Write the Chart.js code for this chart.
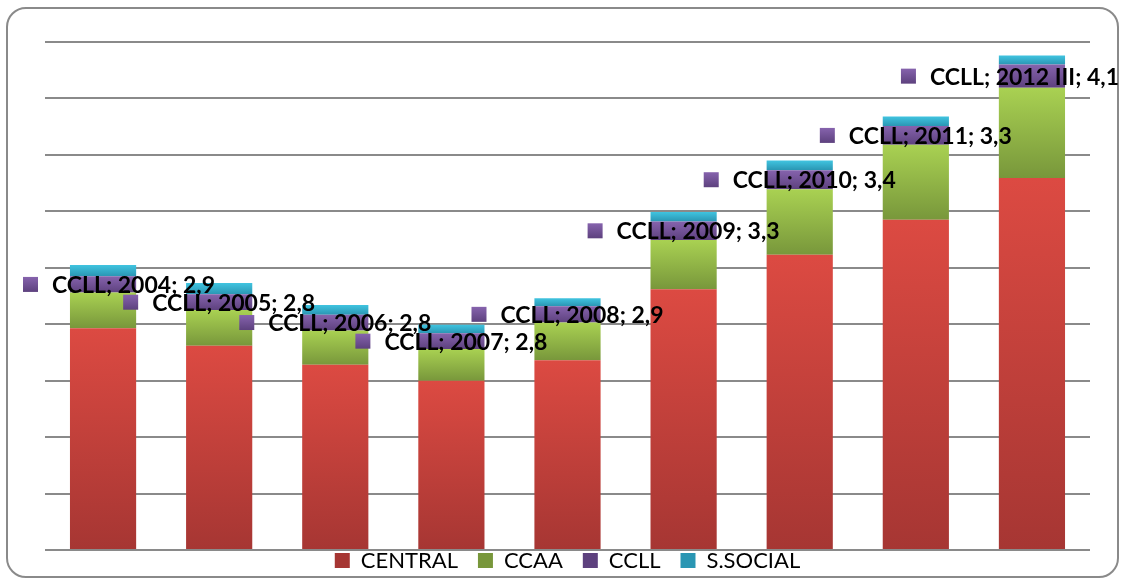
<!DOCTYPE html>
<html><head><meta charset="utf-8">
<script src="https://cdn.jsdelivr.net/npm/chart.js@4"></script>
<style>
html,body{margin:0;padding:0;background:#fff;}
#wrap{position:relative;width:1121px;height:580px;overflow:hidden;}
#frame{position:absolute;left:6px;top:7px;width:1113px;height:571px;border:2px solid #8a8a8a;border-radius:20px;box-sizing:border-box;}
canvas{position:absolute;left:0;top:0;}
</style></head><body>
<div id="wrap"><div id="frame"></div><canvas id="c" width="1121" height="580"></canvas></div>
<script>
// ---- data ----
const categories = ['2004','2005','2006','2007','2008','2009','2010','2011','2012 III'];
const seriesNames = ['CENTRAL','CCAA','CCLL','S.SOCIAL'];
const central  = [39.3, 36.2, 32.8, 30.0, 33.6, 46.2, 52.3, 58.5, 65.9];
const ccaa     = [6.3, 6.3, 6.1, 5.6, 6.7, 8.7, 11.6, 13.3, 16.0];
const ccll     = [2.9, 2.8, 2.8, 2.8, 2.9, 3.3, 3.4, 3.3, 4.1];
const ssocial  = [2.0, 2.0, 1.7, 1.5, 1.4, 1.7, 1.7, 1.7, 1.6];
const yTicks   = [0,10,20,30,40,50,60,70,80,90];

// ---- styles ----
const palette = [
  {light:'#dc4a42', dark:'#a63633', mid:'#c9413c'},
  {light:'#a9d152', dark:'#78973b', mid:'#93b847'},
  {light:'#8663ad', dark:'#5d417e', mid:'#75549a'},
  {light:'#40c4e0', dark:'#2a96b3', mid:'#33aed0'}
];
const seriesValues = [central, ccaa, ccll, ssocial];

function segGrad(dsIndex) {
  const p = palette[dsIndex];
  return function(c) {
    const chart = c.chart;
    if (c.type !== 'data' || !chart.chartArea) return p.mid;
    const ys = chart.scales.y;
    const i = c.dataIndex;
    let base = 0;
    for (let d = 0; d < dsIndex; d++) base += chart.data.datasets[d].data[i];
    const top = base + chart.data.datasets[dsIndex].data[i];
    const y0 = ys.getPixelForValue(top), y1 = ys.getPixelForValue(base);
    const g = chart.ctx.createLinearGradient(0, y0, 0, y1);
    g.addColorStop(0, p.light); g.addColorStop(1, p.dark);
    return g;
  };
}

function fmt(v){ return v.toFixed(1).replace('.', ','); }

const labelPlugin = {
  id: 'ccllLabels',
  afterLayout(chart) {
    const lg = chart.legend;
    if (lg) { lg.top -= 20.5; lg.bottom -= 20.5; }
  },
  afterDatasetsDraw(chart) {
    const meta = chart.getDatasetMeta(2);
    const ctx = chart.ctx;
    ctx.save();
    ctx.font = 'bold 23px Lato';
    ctx.textBaseline = 'middle';
    meta.data.forEach((el, i) => {
      const txt = seriesNames[2] + '; ' + categories[i] + '; ' + fmt(chart.data.datasets[2].data[i]);
      const tw = ctx.measureText(txt).width;
      const w = 15 + 14 + tw;
      let x0 = el.x - w / 2;
      x0 = Math.max(23, Math.min(x0, 1119 - w));
      const yc = (el.y + el.base) / 2;
      const g = ctx.createLinearGradient(0, yc - 7.5, 0, yc + 7.5);
      g.addColorStop(0, palette[2].light); g.addColorStop(1, palette[2].dark);
      ctx.fillStyle = g;
      ctx.fillRect(x0, yc - 7.5, 15, 15);
      ctx.fillStyle = '#000';
      ctx.fillText(txt, x0 + 29, yc + 1);
    });
    ctx.restore();
  }
};

new Chart(document.getElementById('c'), {
  type: 'bar',
  data: {
    labels: categories,
    datasets: seriesValues.map((vals, d) => ({
      label: seriesNames[d],
      data: vals,
      backgroundColor: segGrad(d),
      borderWidth: 0,
      categoryPercentage: 1,
      barPercentage: 0.57
    }))
  },
  options: {
    responsive: false,
    animation: false,
    events: [],
    layout: { padding: { left: 45, right: 31, top: 42, bottom: -22 } },
    plugins: {
      tooltip: { enabled: false },
      legend: {
        position: 'bottom',
        labels: {
          boxWidth: 15, boxHeight: 15, padding: 20, color: '#000',
          font: { family: 'Lato', size: 22 }
        }
      }
    },
    scales: {
      x: {
        display: false,
        stacked: true
      },
      y: {
        stacked: true,
        min: yTicks[0], max: yTicks[yTicks.length - 1],
        afterBuildTicks: (s) => { s.ticks = yTicks.map(v => ({value: v})); },
        grid: { color: '#8a8a8a', lineWidth: 2, drawTicks: false },
        border: { display: false },
        ticks: { display: false }
      }
    }
  },
  plugins: [labelPlugin]
});
</script>
</body></html>
